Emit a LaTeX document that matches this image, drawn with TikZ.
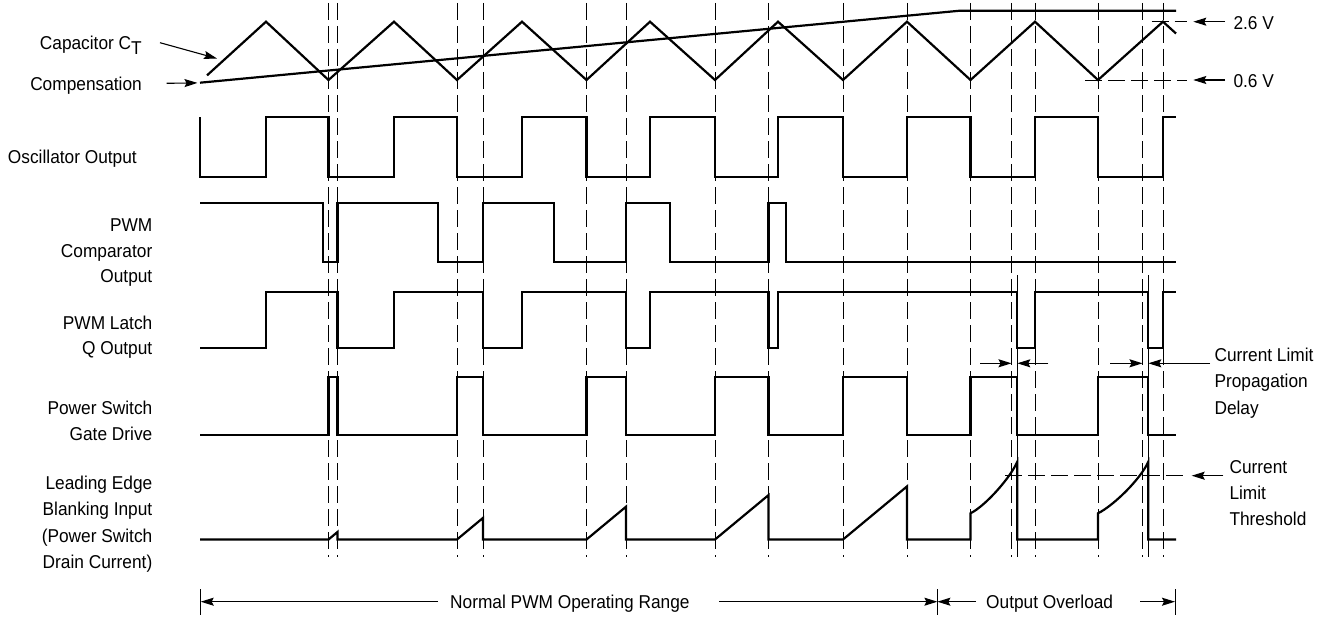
\documentclass[tikz,border=0pt]{standalone}
\usepackage{fontspec}
\setmainfont{Liberation Sans}[FakeStretch=0.93]
\usetikzlibrary{arrows.meta}
\begin{document}
\begin{tikzpicture}[x=1pt,y=-1pt,
  trace/.style={line width=2.2pt, line join=miter, line cap=butt},
  guide/.style={line width=0.9pt, dash pattern=on 17pt off 6pt},
  extline/.style={line width=0.9pt},
  arr/.style={line width=1.1pt, -{Stealth[length=13pt,width=8pt,inset=2pt]}},
  lbl/.style={inner sep=0pt, font=\fontsize{18.6}{21}\selectfont},
]
\useasboundingbox (0,0) rectangle (1328,618);

% vertical guide lines
\foreach \gx in {328.5,337.5,457,483,586.5,626,715,768.5,843,907,970.5,1011.5,1035,1098,1142.5,1163}
  \draw[guide] (\gx,3) -- (\gx,557);

% extension lines for propagation delay
\draw[extline] (1017.3,275) -- (1017.3,557);
\draw[extline] (1148.3,275) -- (1148.3,557);

% level guide lines
\draw[guide] (1151.7,21.7) -- (1186.7,21.7);
\draw[guide] (1085,80) -- (1186.7,80);
\draw[guide] (1005,475.7) -- (1186.7,475.7);

% capacitor ramp
\draw[trace] (207,75.4) -- (266,21.7) -- (328.5,80) -- (394,21.7) -- (457,80) -- (522,21.7) -- (586.5,80) -- (650,21.7) -- (715,80) -- (778,21.7) -- (843,80) -- (907,21.7) -- (970.5,80) -- (1035,21.7) -- (1098,80) -- (1163,21.7) -- (1176,33.5);
% compensation
\draw[trace] (200,82.7) -- (960,10.7) -- (1176,10.7);

% oscillator output
\draw[trace] (200,117.3) -- (200,176.7) -- (266,176.7) -- (266,117.3) -- (328.5,117.3) -- (328.5,176.7) -- (394,176.7) -- (394,117.3) -- (457,117.3) -- (457,176.7) -- (522,176.7) -- (522,117.3) -- (586.5,117.3) -- (586.5,176.7) -- (650,176.7) -- (650,117.3) -- (715,117.3) -- (715,176.7) -- (778,176.7) -- (778,117.3) -- (843,117.3) -- (843,176.7) -- (907,176.7) -- (907,117.3) -- (970.5,117.3) -- (970.5,176.7) -- (1035,176.7) -- (1035,117.3) -- (1098,117.3) -- (1098,176.7) -- (1163,176.7) -- (1163,117.3) -- (1176,117.3);

% PWM comparator output
\draw[trace] (200,203.3) -- (322.7,203.3) -- (322.7,261.7) -- (337.5,261.7) -- (337.5,203.3) -- (438.3,203.3) -- (438.3,261.7) -- (483,261.7) -- (483,203.3) -- (554.3,203.3) -- (554.3,261.7) -- (626,261.7) -- (626,203.3) -- (670,203.3) -- (670,261.7) -- (768.5,261.7) -- (768.5,203.3) -- (786,203.3) -- (786,261.7) -- (1176,261.7);

% PWM latch Q output
\draw[trace] (200,347.7) -- (266,347.7) -- (266,291.7) -- (337.5,291.7) -- (337.5,347.7) -- (394,347.7) -- (394,291.7) -- (483,291.7) -- (483,347.7) -- (522,347.7) -- (522,291.7) -- (626,291.7) -- (626,347.7) -- (650,347.7) -- (650,291.7) -- (768.5,291.7) -- (768.5,347.7) -- (778,347.7) -- (778,291.7) -- (1017.3,291.7) -- (1017.3,347.7) -- (1035,347.7) -- (1035,291.7) -- (1148.3,291.7) -- (1148.3,347.7) -- (1163,347.7) -- (1163,291.7) -- (1176,291.7);

% power switch gate drive
\draw[trace] (200,435) -- (328.5,435) -- (328.5,376.7) -- (337.5,376.7) -- (337.5,435) -- (457,435) -- (457,376.7) -- (483,376.7) -- (483,435) -- (586.5,435) -- (586.5,376.7) -- (626,376.7) -- (626,435) -- (715,435) -- (715,376.7) -- (768.5,376.7) -- (768.5,435) -- (843,435) -- (843,376.7) -- (907,376.7) -- (907,435) -- (970.5,435) -- (970.5,376.7) -- (1017.3,376.7) -- (1017.3,435) -- (1098,435) -- (1098,376.7) -- (1148.3,376.7) -- (1148.3,435) -- (1176,435);

% leading edge blanking input
\draw[trace] (200,539.5) -- (328.5,539.5) -- (337.5,532) -- (337.5,539.5) -- (457,539.5) -- (483,517.9) -- (483,539.5) -- (586.5,539.5) -- (626,506.7) -- (626,539.5) -- (715,539.5) -- (768.5,495.1) -- (768.5,539.5) -- (843,539.5) -- (907,486.4) -- (907,539.5) -- (970.5,539.5) -- (970.5,513.3) .. controls (985.5,505.8) and (1010.3,477.8) .. (1017.3,461.7) -- (1017.3,539.5) -- (1098,539.5) -- (1098,513.3) .. controls (1114,505.3) and (1141,478.5) .. (1148.3,461.7) -- (1148.3,539.5) -- (1176,539.5);

% left labels
\node[lbl, anchor=base east] (capl) at (142,50) {Capacitor C\raisebox{-5pt}{T}};
\node[lbl, anchor=base east] (compl) at (142,90) {Compensation};
\node[lbl, anchor=base east] (oscl) at (137,163.3) {Oscillator Output};
\node[lbl, anchor=base east] (cmpa) at (152.5,231.7) {PWM};
\node[lbl, anchor=base east] (cmpb) at (152.5,257.2) {Comparator};
\node[lbl, anchor=base east] (cmpc) at (152.5,282.7) {Output};
\node[lbl, anchor=base east] (lata) at (152.5,329) {PWM Latch};
\node[lbl, anchor=base east] (latb) at (152.5,354.3) {Q Output};
\node[lbl, anchor=base east] (gata) at (152.5,414) {Power Switch};
\node[lbl, anchor=base east] (gatb) at (152.5,440.5) {Gate Drive};
\node[lbl, anchor=base east] (leba) at (152.5,489) {Leading Edge};
\node[lbl, anchor=base east] (lebb) at (152.5,515.5) {Blanking Input};
\node[lbl, anchor=base east] (lebc) at (152.5,542) {(Power Switch};
\node[lbl, anchor=base east] (lebd) at (152.5,568.5) {Drain Current)};

\coordinate (capS) at (160,42.7);
\coordinate (capE) at (217,58.5);
\draw[arr] (capS) -- (capE);
\coordinate (compS) at (166.7,83.3);
\coordinate (compE) at (197.5,82.9);
\draw[arr] (compS) -- (compE);

% right labels
\node[lbl, anchor=base west] (v26) at (1233.3,29.3) {2.6 V};
\node[lbl, anchor=base west] (v06) at (1233.3,87.5) {0.6 V};
\coordinate (v26S) at (1225,21.7);
\coordinate (v26E) at (1193.3,21.7);
\coordinate (v06S) at (1225,80);
\coordinate (v06E) at (1193.3,80);
\draw[arr] (v26S) -- (v26E);
\draw[arr] (v06S) -- (v06E);

\node[lbl, anchor=base west] (cpa) at (1214.3,361) {Current Limit};
\node[lbl, anchor=base west] (cpb) at (1214.3,387.7) {Propagation};
\node[lbl, anchor=base west] (cpc) at (1214.3,414.8) {Delay};
\coordinate (pd1S) at (980,363.3);
\coordinate (pd1E) at (1011.5,363.3);
\coordinate (pd2S) at (1048.3,363.3);
\coordinate (pd2E) at (1017.3,363.3);
\coordinate (pd3S) at (1110,363.3);
\coordinate (pd3E) at (1142.5,363.3);
\coordinate (pd4S) at (1210,363.3);
\coordinate (pd4E) at (1148.3,363.3);
\draw[arr] (pd1S) -- (pd1E);
\draw[arr] (pd2S) -- (pd2E);
\draw[arr] (pd3S) -- (pd3E);
\draw[arr] (pd4S) -- (pd4E);

\node[lbl, anchor=base west] (tha) at (1229.3,473.3) {Current};
\node[lbl, anchor=base west] (thb) at (1229.3,499.3) {Limit};
\node[lbl, anchor=base west] (thc) at (1229.3,525.3) {Threshold};
\coordinate (thS) at (1223.3,475.7);
\coordinate (thE) at (1191.7,475.7);
\draw[arr] (thS) -- (thE);

% bottom range indicators
\node[lbl, anchor=base west] (normal) at (450,608) {Normal PWM Operating Range};
\node[lbl, anchor=base west] (overload) at (986,608) {Output Overload};
\coordinate (bL) at (200.7,601.7);
\coordinate (bM) at (937.4,601.7);
\coordinate (bR) at (1175,601.7);
\draw[extline] (200.7,589) -- (200.7,615);
\draw[extline] (937.4,589) -- (937.4,615);
\draw[extline] (1175,589) -- (1175,615);
\coordinate (n1S) at (438,601.7);
\coordinate (n2S) at (719,601.7);
\coordinate (o1S) at (976,601.7);
\coordinate (o2S) at (1140,601.7);
\draw[arr] (n1S) -- (bL);
\draw[arr] (n2S) -- (bM);
\draw[arr] (o1S) -- (bM);
\draw[arr] (o2S) -- (bR);
\end{tikzpicture}
\end{document}
